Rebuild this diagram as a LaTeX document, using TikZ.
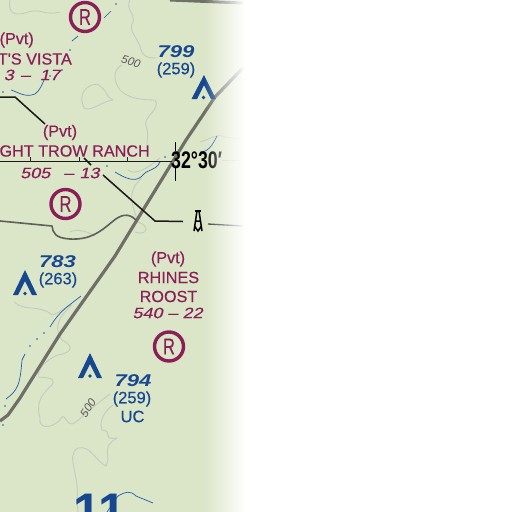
\documentclass[tikz,border=0pt]{standalone}
\usepackage{fontspec}
\setmainfont{Liberation Sans}
\newfontfamily\heavyfont[FakeBold=0.35]{Liberation Sans}
\newfontfamily\heavyital[FakeBold=0.5,FakeSlant=0.2]{Liberation Sans}
\usetikzlibrary{fadings}
\definecolor{land}{HTML}{DBE5C8}
\definecolor{apt}{HTML}{8A1F58}
\definecolor{obst}{HTML}{17488F}
\definecolor{contour}{HTML}{C6CBBE}
\definecolor{road}{HTML}{6E7068}
\definecolor{stream}{HTML}{1F5FA8}
\tikzset{
  x=1pt,y=-1pt,
  aptlabel/.style={text=apt,inner sep=0pt,font=\heavyfont\fontsize{16.2}{17}\selectfont},
  aptelev/.style={text=apt,inner sep=0pt,font=\heavyital\fontsize{15}{16}\selectfont,xscale=1.2},
  obstlabel/.style={text=obst,inner sep=0pt,font=\heavyfont\fontsize{16.5}{17}\selectfont},
  obstelev/.style={text=obst,inner sep=0pt,font=\itshape\bfseries\fontsize{17}{17}\selectfont,xscale=1.3},
  aptring/.style={circle,draw=apt,line width=3.4pt,minimum size=29pt,inner sep=0pt,text=apt,font=\heavyfont\fontsize{23}{23}\selectfont},
  contourline/.style={draw=contour,line width=0.9pt,line join=round},
  contourlabel/.style={text=black!65,inner sep=0pt,font=\itshape\fontsize{11.5}{12}\selectfont},
  streamline/.style={draw=stream,line width=0.7pt},
  blackline/.style={draw=black!90,line width=1.5pt},
  roadline/.style={draw=road,line width=3.2pt,line join=round},
  trail/.style={draw=road!85!black,line width=1.6pt,line join=round},
  hazard/.style={fill=obst,draw=none},
  spot/.style={circle,fill=stream,inner sep=0pt,minimum size=1.6pt},
}
\newcommand{\narrowR}{\scalebox{0.72}[1]{R}}
\begin{document}
\begin{tikzpicture}
\useasboundingbox (0,0) rectangle (512,512);
\begin{scope}
\clip (0,0) rectangle (512,512);
\fill[land] (0,0) rectangle (512,512);
% contours
\draw[contourline] (10,0) .. controls (8,10) and (12,18) .. (28,12) .. controls (40,8) and (45,16) .. (60,12);
\draw[contourline] (130,0) .. controls (125,10) and (135,12) .. (133,22) .. controls (128,30) and (136,36) .. (140,46) .. controls (142,58) and (150,58) .. (156,58);
\draw[contourline] (122,65) .. controls (112,70) and (114,82) .. (120,90) .. controls (128,98) and (140,100) .. (155,100) .. controls (162,108) and (142,118) .. (146,126) .. controls (150,135) and (145,142) .. (148,152);
\draw[contourline] (84,108) .. controls (78,95) and (85,85) .. (97,84) .. controls (108,90) and (106,98) .. (113,100) .. controls (100,102) and (92,112) .. (84,108);
\draw[contourline] (128,170) .. controls (135,176) and (148,168) .. (160,158);
\draw[contourline] (142,178) .. controls (128,190) and (130,200) .. (138,222) .. controls (150,226) and (148,236) .. (135,232);
\draw[contourline] (70,232) .. controls (78,228) and (88,232) .. (95,236);
\draw[contourline] (200,142) .. controls (208,140) and (216,134) .. (222,136) .. controls (228,138) and (235,138) .. (243,139);
\draw[contourline] (222,160) -- (243,160);
\draw[contourline] (14,302) .. controls (25,312) and (40,304) .. (52,315) .. controls (62,312) and (65,306) .. (72,305) .. controls (55,320) and (55,330) .. (62,340) .. controls (72,345) and (75,352) .. (58,355) .. controls (50,358) and (40,365) .. (38,375);
\draw[contourline] (38,377) .. controls (54,378) and (55,380) .. (52,385) .. controls (40,395) and (36,405) .. (40,418) .. controls (38,428) and (50,430) .. (60,420) .. controls (65,410) and (65,425) .. (73,424) .. controls (80,420) and (82,415) .. (110,394);
\draw[contourline] (113,405) .. controls (100,415) and (100,425) .. (102,430) .. controls (115,432) and (100,440) .. (117,438) .. controls (100,448) and (112,455) .. (106,466) .. controls (95,460) and (90,445) .. (78,448) .. controls (65,455) and (80,475) .. (77,500) -- (78,512);
% streams
\draw[streamline] (11,90) .. controls (18,92) and (25,98) .. (35,94) .. controls (40,90) and (42,85) .. (44,80);
\draw[streamline] (115,172) .. controls (125,178) and (135,183) .. (142,176) .. controls (148,168) and (155,172) .. (160,162);
\draw[streamline] (200,152) .. controls (208,152) and (212,146) .. (217,136);
\draw[streamline] (50,327) .. controls (60,310) and (70,305) .. (81,296);
\draw[streamline] (6,399) .. controls (18,390) and (20,385) .. (22,360) -- (25,354);
\draw[streamline] (118,496) .. controls (125,492) and (130,490) .. (136,496) -- (153,503);
\draw[streamline] (107,512) -- (118,496);
\draw[streamline] (104,18) -- (111,11);
\draw[streamline] (72,41) -- (78,36);
\node[spot] (s1) at (116,4) {};
\node[spot] (s2) at (70,50) {};
\node[spot] (s3) at (62,70) {};
\node[spot] (s4) at (50,76) {};
\node[spot] (s5) at (3,92) {};
\node[spot] (s6) at (165,157) {};
\node[spot] (s7) at (107,166) {};
\node[spot] (s8) at (44,333) {};
\node[spot] (s9) at (37,339) {};
\node[spot] (s10) at (30,346) {};
\node[spot] (s11) at (5,406) {};
\node[spot] (s12) at (3,425) {};
% road, trail
\draw[draw=road,line width=3pt] (170,0) -- (243,3);
\draw[roadline] (243,68) -- (215,97) -- (186,140) -- (140,215) -- (115,256) -- (60,334) -- (20,398) -- (8,415) -- (0,421);
\draw[trail] (0,221) -- (52,226) .. controls (53,233) and (55,238) .. (70,239) .. controls (90,240) and (100,232) .. (112,222) .. controls (120,215) and (128,212) .. (136,220);
% black lines
\coordinate (ml1) at (0,97);
\coordinate (ml2) at (15,97);
\coordinate (pv1) at (45,124);
\draw[blackline] (ml1) -- (ml2) -- (pv1);
\coordinate (lat1) at (0,161.5);
\coordinate (lat2) at (172,161.5);
\draw[blackline] (lat1) -- (lat2);
\draw[draw=black!85,line width=0.9pt] (30,157) -- (30,162) (79,157) -- (79,162) (127,157) -- (127,162);
\coordinate (ld1) at (84,158);
\coordinate (ld2) at (155,221);
\coordinate (twr) at (183,221.5);
\draw[blackline] (ld1) -- (91,165);
\draw[blackline] (103,175) -- (ld2) -- (twr);
\draw[draw=black!80,line width=1.3pt] (208,224) -- (243,226);
\draw[draw=black,line width=1pt] (175,142) -- (175,151) (175,168) -- (175,181);
% tower
\path[fill=black] (195,210) rectangle (201,212);
\draw[line width=1.5pt] (197,211) -- (194,231) (199,211) -- (202,231) (195,221) -- (201,221) (194.5,226) -- (198,231) -- (201.5,226);
% airport rings
\node[aptring] (r1) at (85,17) {\narrowR};
\node[aptring] (r2) at (65.5,204) {\narrowR};
\node[aptring] (r3) at (169,346.5) {\narrowR};
% airport labels
\node[aptlabel,anchor=east] (v1) at (34,40) {(Pvt)};
\node[aptlabel,anchor=east] (v2) at (72,59) {T'S VISTA};
\node[aptelev,anchor=east] (v3) at (14,75) {3};
\node[aptelev,anchor=east] (v4) at (60,75) {–\hspace{8pt}17};
\node[aptlabel] (t1) at (60,132.5) {(Pvt)};
\node[aptlabel,anchor=east] (t2) at (150,151) {GHT TROW RANCH};
\node[aptelev,anchor=west] (t3) at (20,173) {505\hspace{11pt}–\hspace{5pt}13};
\node[aptlabel] (h1) at (168,259) {(Pvt)};
\node[aptlabel] (h2) at (168.5,277.5) {RHINES};
\node[aptlabel] (h3) at (168.5,296.5) {ROOST};
\node[aptelev] (h4) at (167.5,313) {540 – 22};
% obstructions
\node[obstelev] (o1) at (176,52) {799};
\node[obstlabel] (o2) at (176,70) {(259)};
\node[obstelev] (o3) at (57.5,261.5) {783};
\node[obstlabel] (o4) at (58,280) {(263)};
\node[obstelev] (o5) at (133,380.5) {794};
\node[obstlabel] (o6) at (132,399) {(259)};
\node[obstlabel] (o7) at (132.5,416.5) {UC};
\path[hazard] (204,75) -- (216,99) -- (211,99) -- (204,85) -- (197,99) -- (191.5,99) -- cycle;
\fill[obst] (203.5,97.5) circle (1.9);
\path[hazard] (25,270) -- (37,295) -- (32,295) -- (25,281) -- (18,295) -- (13,295) -- cycle;
\fill[obst] (25,293.5) circle (1.9);
\path[hazard] (90,353) -- (102,378) -- (97,378) -- (90,364) -- (83,378) -- (78,378) -- cycle;
\fill[obst] (90,376) circle (1.9);
% contour labels
\node[contourlabel,rotate=-17] (c1) at (131,62) {500};
\node[contourlabel,rotate=57] (c2) at (88,408) {500};
% lat label
\node[inner sep=0pt,anchor=west,font=\bfseries\fontsize{24}{24}\selectfont,xscale=0.74] (lat) at (171,160.5) {32°30′};
% section number
\node[text=obst,inner sep=0pt,anchor=north west,font=\bfseries\fontsize{50}{50}\selectfont] (sec) at (73,494) {11};
% fade to white
\fill[white,path fading=west] (204,0) rectangle (245,512);
\fill[white] (244.5,0) rectangle (512,512);
\end{scope}
\end{tikzpicture}
\end{document}
